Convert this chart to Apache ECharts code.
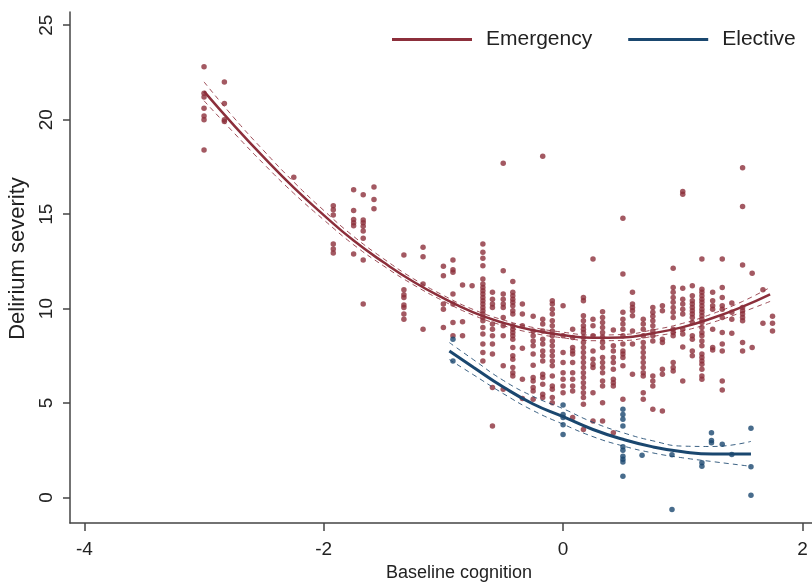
<!DOCTYPE html>
<html>
<head>
<meta charset="utf-8">
<script src="https://cdn.jsdelivr.net/npm/echarts@6/dist/echarts.min.js"></script>
<style>
  html, body { margin: 0; padding: 0; background: #fff; }
  #chart { width: 812px; height: 582px; }
</style>
</head>
<body>
<div id="chart"></div>
<script>
// scatter points, one column per baseline cognition value: [x, [y...]]
const emergencyColumns = [
  [-3.0, [22.8, 21.4, 21.2, 20.6, 20.2, 20.0, 18.4]],
  [-2.83, [22.0, 20.85, 20.0, 19.9]],
  [-2.25, [16.95]],
  [-1.92, [15.45, 15.23, 14.96, 13.42, 13.16, 12.94]],
  [-1.75, [16.29, 15.19, 14.71, 14.54, 14.39, 12.89]],
  [-1.67, [16.02, 14.69, 14.54, 14.36, 14.11, 13.72, 12.57, 10.24]],
  [-1.58, [16.43, 15.77, 15.28]],
  [-1.33, [12.84, 11.0, 10.73, 10.59, 10.19, 10.06, 9.71, 9.44]],
  [-1.17, [13.25, 12.75, 11.3, 8.91]],
  [-1.0, [12.24, 11.74, 10.24, 9.97, 9.0]],
  [-0.92, [12.57, 12.06, 11.92, 10.77, 10.24, 9.27, 8.56]],
  [-0.84, [11.25, 9.3, 8.56]],
  [-0.76, [11.21]],
  [-0.67, [13.42, 12.98, 12.66, 12.27, 11.56, 11.3, 11.12, 10.94, 10.77, 10.59, 10.41, 10.24, 10.06, 9.88, 9.71, 9.53, 9.35, 9.0, 8.65, 8.12, 7.68, 7.23]],
  [-0.59, [10.86, 10.5, 10.24, 10.06, 9.18, 8.91, 8.56, 8.12, 7.59, 5.82, 3.78]],
  [-0.5, [17.7, 12.0, 10.77, 10.5, 10.24, 10.06, 9.53, 9.09, 8.56, 6.97, 5.73]],
  [-0.42, [11.44, 10.86, 10.68, 10.5, 10.33, 10.15, 9.88, 9.71, 9.09, 8.91, 8.74, 8.56, 8.38, 7.94, 7.5, 7.32, 6.88, 6.61, 6.43]],
  [-0.34, [10.24, 9.71, 9.09, 7.9, 6.26, 5.24]],
  [-0.25, [9.59, 8.82, 8.56, 8.29, 8.03, 7.59, 7.0, 6.35, 6.17, 5.82, 5.64, 5.2]],
  [-0.17, [18.07, 9.44, 9.18, 8.82, 8.38, 8.12, 7.76, 7.5, 7.23, 6.53, 6.35, 5.99, 5.46, 5.29]],
  [-0.09, [10.41, 10.24, 9.97, 9.71, 9.35, 9.09, 8.82, 8.56, 8.29, 8.03, 7.76, 7.5, 7.23, 6.97, 6.43, 5.9, 5.73, 5.29, 5.02]],
  [0.0, [10.15, 8.56, 7.68, 7.14, 6.61, 6.26, 5.9, 5.55]],
  [0.08, [8.9, 8.47, 7.94, 7.76, 7.59, 7.14, 6.61, 6.26, 5.9, 5.64, 4.23]],
  [0.17, [10.59, 10.41, 9.62, 9.35, 9.09, 8.91, 8.74, 8.47, 8.21, 7.94, 7.68, 7.41, 7.14, 6.88, 6.61, 6.35, 6.08, 5.82, 5.55, 5.29, 4.93, 3.6]],
  [0.25, [12.63, 9.44, 9.09, 8.56, 7.76, 7.32, 7.06, 6.88, 5.55, 4.05]],
  [0.33, [9.83, 9.53, 9.27, 9.0, 8.74, 8.47, 8.21, 7.94, 7.41, 7.14, 6.88, 6.61, 6.17, 5.9, 5.02, 4.05]],
  [0.42, [8.86, 8.03, 7.76, 7.41, 7.14, 6.79, 6.26, 6.08, 5.9, 3.43]],
  [0.5, [14.78, 11.83, 9.8, 9.44, 9.18, 8.91, 8.56, 8.12, 7.76, 7.59, 7.41, 6.97, 5.2]],
  [0.58, [10.86, 10.24, 10.06, 9.88, 9.62, 8.82, 8.12, 6.53]],
  [0.67, [9.44, 9.18, 8.91, 8.56, 8.21, 7.94, 7.68, 7.41, 7.14, 6.88, 6.61, 6.43, 5.55, 5.2]],
  [0.75, [10.06, 9.8, 9.59, 9.35, 9.09, 8.82, 8.56, 8.29, 6.43, 6.17, 5.9, 4.67]],
  [0.83, [10.15, 9.88, 8.38, 8.21, 6.79, 6.53, 4.58]],
  [0.92, [12.13, 11.12, 10.86, 10.59, 10.33, 10.06, 9.8, 9.53, 8.91, 8.74, 8.56, 7.14, 6.88, 6.7]],
  [1.0, [16.2, 16.05, 11.07, 10.5, 10.24, 9.97, 9.71, 8.91, 8.65, 7.97, 6.17]],
  [1.08, [11.21, 10.68, 10.41, 10.24, 10.06, 9.88, 9.71, 9.53, 9.27, 8.56, 8.38, 7.76, 7.5]],
  [1.16, [12.63, 11.03, 10.86, 10.68, 10.5, 10.33, 10.15, 9.97, 9.8, 9.62, 9.44, 9.27, 9.0, 8.74, 8.56, 8.29, 8.03, 7.59, 7.41, 7.23, 7.06, 6.79, 6.43, 6.26]],
  [1.25, [10.86, 10.41, 10.15, 9.97, 8.91, 7.94, 7.81]],
  [1.33, [12.63, 11.12, 10.59, 10.15, 9.97, 9.53, 8.74, 8.12, 7.76, 6.17, 5.69]],
  [1.41, [10.29, 9.8, 9.44, 8.7]],
  [1.5, [17.45, 15.4, 12.31, 10.06, 9.88, 9.71, 9.53, 9.35, 8.21, 7.76]],
  [1.58, [11.87, 7.94]],
  [1.67, [11.0, 9.23]],
  [1.75, [9.59, 9.23, 8.82]]
];
const electiveColumns = [
  [-0.92, [8.38, 7.23]],
  [0.0, [4.9, 4.4, 4.23, 3.85, 3.34]],
  [0.5, [4.67, 4.4, 4.14, 3.78, 2.68, 2.5, 2.19, 2.02, 1.88, 1.13]],
  [0.66, [2.23]],
  [0.91, [2.26, -0.64]],
  [1.16, [1.84, 1.66]],
  [1.24, [3.43, 3.02, 2.9]],
  [1.33, [2.82]],
  [1.41, [2.28]],
  [1.57, [3.66, 1.63, 0.12]]
];

// quadratic fits with 95% bands
const emergencyFitX = [-3.0, -2.75, -2.5, -2.25, -2.0, -1.75, -1.5, -1.25, -1.0, -0.75, -0.5, -0.25, 0.0, 0.25, 0.5, 0.75, 1.0, 1.25, 1.5, 1.73];
const emergencyFit = [21.5, 19.7, 18.0, 16.4, 14.95, 13.6, 12.45, 11.42, 10.55, 9.8, 9.25, 8.85, 8.6, 8.45, 8.47, 8.7, 9.02, 9.5, 10.1, 10.75];
const emergencyUpper = [22.0, 20.1, 18.35, 16.7, 15.2, 13.82, 12.64, 11.58, 10.7, 9.95, 9.4, 9.0, 8.75, 8.6, 8.63, 8.87, 9.22, 9.73, 10.38, 11.12];
const emergencyLower = [21.0, 19.3, 17.65, 16.1, 14.7, 13.38, 12.26, 11.26, 10.4, 9.65, 9.1, 8.7, 8.45, 8.3, 8.31, 8.53, 8.82, 9.27, 9.82, 10.38];

const electiveFitX = [-0.95, -0.75, -0.5, -0.25, 0.0, 0.25, 0.5, 0.75, 1.0, 1.25, 1.57];
const electiveFit = [7.75, 6.9, 5.85, 4.95, 4.28, 3.6, 3.08, 2.68, 2.42, 2.3, 2.3];
const electiveUpper = [8.2, 7.3, 6.2, 5.35, 4.7, 3.98, 3.43, 3.0, 2.72, 2.7, 2.97];
const electiveLower = [7.3, 6.5, 5.5, 4.6, 3.88, 3.22, 2.73, 2.36, 2.1, 1.9, 1.65];

const xTicks = [-4, -2, 0, 2];
const yTicks = [0, 5, 10, 15, 20, 25];

const RED = '#8c2f3b';
const BLUE = '#1a476f';
const FONT = 'Liberation Sans';

function points(cols) {
  const out = [];
  cols.forEach(c => c[1].forEach(y => out.push([c[0], y])));
  return out;
}
function pairs(xs, ys) {
  return xs.map((x, i) => [x, ys[i]]);
}
function band(name, xs, ys, color) {
  return {
    name: name, type: 'line', data: pairs(xs, ys), smooth: true, symbol: 'none', silent: true,
    lineStyle: { color: color, width: 1, type: [5, 4], opacity: 0.85 }, z: 3
  };
}

const chart = echarts.init(document.getElementById('chart'), null, { renderer: 'canvas' });
chart.setOption({
  animation: false,
  backgroundColor: '#fff',
  textStyle: { fontFamily: FONT },
  grid: { left: 70, right: 0, top: 12, bottom: 59, outerBoundsMode: 'none' },
  legend: {
    data: ['Emergency', 'Elective'],
    left: 387, top: 24,
    icon: 'rect', itemWidth: 80, itemHeight: 3, itemGap: 36,
    textStyle: { fontSize: 21, color: '#222', fontFamily: FONT, padding: [0, 0, 0, 9] }
  },
  xAxis: {
    type: 'value', min: -4.12, max: 2.08,
    name: 'Baseline cognition', nameLocation: 'middle', nameGap: 36,
    nameTextStyle: { fontSize: 18, color: '#222', padding: [0, 0, 0, 36] },
    axisLine: { show: true, onZero: false, lineStyle: { color: '#444', width: 1.5 } },
    axisTick: { show: true, length: 8, customValues: xTicks, lineStyle: { color: '#444', width: 1.5 } },
    axisLabel: { fontSize: 19, color: '#222', margin: 17, customValues: xTicks },
    splitLine: { show: false }
  },
  yAxis: {
    type: 'value', min: -1.35, max: 25.7,
    name: 'Delirium severity', nameLocation: 'middle', nameGap: 40, nameRotate: 90,
    nameTextStyle: { fontSize: 22, color: '#222', padding: [0, 0, 0, 18] },
    axisLine: { show: true, onZero: false, lineStyle: { color: '#444', width: 1.5 } },
    axisTick: { show: true, length: 7, customValues: yTicks, lineStyle: { color: '#444', width: 1.5 } },
    axisLabel: { fontSize: 19, color: '#222', margin: 14, rotate: 90, customValues: yTicks },
    splitLine: { show: false }
  },
  series: [
    {
      name: 'Emergency points', type: 'scatter', data: points(emergencyColumns),
      symbolSize: 5.5, silent: true, itemStyle: { color: RED }, z: 2
    },
    {
      name: 'Elective points', type: 'scatter', data: points(electiveColumns),
      symbolSize: 5.5, silent: true, itemStyle: { color: BLUE }, z: 2
    },
    band('Emergency upper', emergencyFitX, emergencyUpper, RED),
    band('Emergency lower', emergencyFitX, emergencyLower, RED),
    band('Elective upper', electiveFitX, electiveUpper, BLUE),
    band('Elective lower', electiveFitX, electiveLower, BLUE),
    {
      name: 'Emergency', type: 'line', data: pairs(emergencyFitX, emergencyFit), smooth: true,
      symbol: 'none', silent: true, itemStyle: { color: RED },
      lineStyle: { color: RED, width: 2.5 }, z: 4
    },
    {
      name: 'Elective', type: 'line', data: pairs(electiveFitX, electiveFit), smooth: true,
      symbol: 'none', silent: true, itemStyle: { color: BLUE },
      lineStyle: { color: BLUE, width: 3 }, z: 4
    }
  ]
});
</script>
</body>
</html>
